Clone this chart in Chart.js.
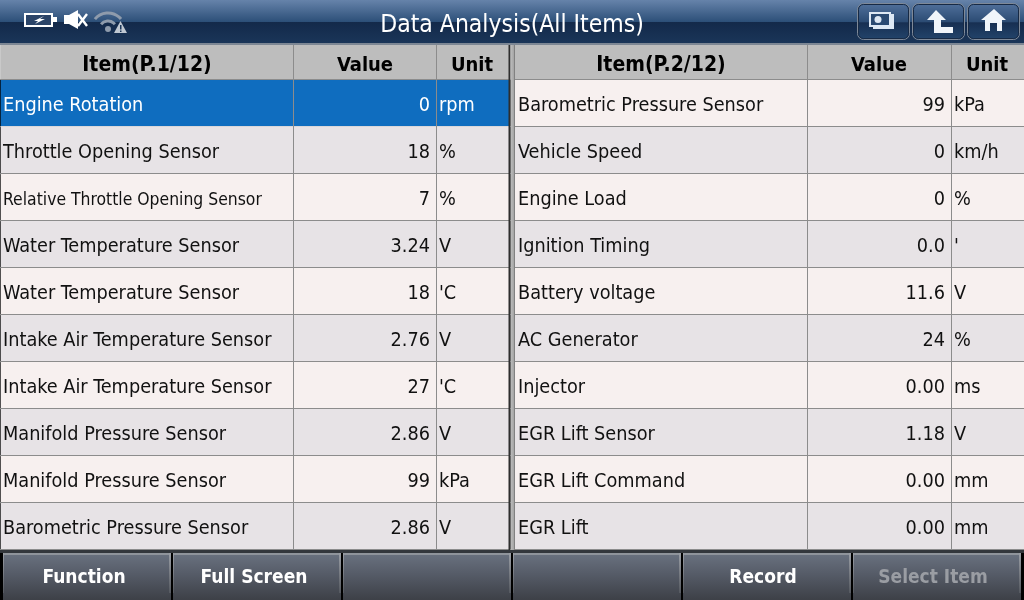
<!DOCTYPE html>
<html><head><meta charset="utf-8">
<style>html,body{margin:0;padding:0;background:#000;overflow:hidden}canvas{display:block}</style>
<script src="https://cdn.jsdelivr.net/npm/chart.js@4"></script>
</head><body><canvas id="c" width="1024" height="600"></canvas>
<script>
const title = "Data Analysis(All Items)";
const headers1 = ["Item(P.1/12)", "Value", "Unit"];
const headers2 = ["Item(P.2/12)", "Value", "Unit"];
const items1 = ["Engine Rotation","Throttle Opening Sensor","Relative Throttle Opening Sensor","Water Temperature Sensor","Water Temperature Sensor","Intake Air Temperature Sensor","Intake Air Temperature Sensor","Manifold Pressure Sensor","Manifold Pressure Sensor","Barometric Pressure Sensor"];
const values1 = ["0","18","7","3.24","18","2.76","27","2.86","99","2.86"];
const units1 = ["rpm","%","%","V","'C","V","'C","V","kPa","V"];
const items2 = ["Barometric Pressure Sensor","Vehicle Speed","Engine Load","Ignition Timing","Battery voltage","AC Generator","Injector","EGR Lift Sensor","EGR Lift Command","EGR Lift"];
const values2 = ["99","0","0","0.0","11.6","24","0.00","1.18","0.00","0.00"];
const units2 = ["kPa","km/h","%","'","V","%","ms","V","mm","mm"];
const buttons = ["Function","Full Screen","","","Record","Select Item"];

const ODD = "#f7f0ef", EVEN = "#e7e3e6", SEL = "#0f6dbf", LINE = "#8c8c8c", HEAD = "#bdbdbd";
const FONT = '"DejaVu Sans Condensed","DejaVu Sans",sans-serif';
const cols = [[1,293],[294,436],[437,509],[515,807],[808,951],[952,1024]];
const rowLabels = items1.map((_, i) => "row" + (i + 1));
const datasets = cols.map((c, ci) => ({
  data: rowLabels.map(() => [c[0], c[1]]),
  backgroundColor: rowLabels.map((_, r) => (r === 0 && ci < 3) ? SEL : (r % 2 ? EVEN : ODD)),
  borderWidth: 0, categoryPercentage: 1, barPercentage: 1, grouped: false
}));

function vgrad(ctx, y0, y1, stops){
  const g = ctx.createLinearGradient(0, y0, 0, y1);
  stops.forEach(s => g.addColorStop(s[0], s[1]));
  return g;
}
function poly(ctx, pts){
  ctx.beginPath();
  pts.forEach((p, i) => i ? ctx.lineTo(p[0], p[1]) : ctx.moveTo(p[0], p[1]));
  ctx.closePath(); ctx.fill();
}

const chrome = {
  id: "chrome",
  beforeDraw(chart){
    const ctx = chart.ctx;
    ctx.save();
    // title bar
    ctx.fillStyle = vgrad(ctx,0,22,[[0,"#6683aa"],[1,"#2c4f78"]]); ctx.fillRect(0,0,1024,22);
    ctx.fillStyle = vgrad(ctx,22,43,[[0,"#13294a"],[1,"#1a3558"]]); ctx.fillRect(0,22,1024,21);
    ctx.fillStyle = "#7d8794"; ctx.fillRect(0,43,1024,2);
    // table header
    ctx.fillStyle = "#c9c9c9"; ctx.fillRect(0,45,1024,35);
    ctx.fillStyle = HEAD;
    cols.forEach(c => ctx.fillRect(c[0],45,c[1]-c[0],34));
    // toolbar
    ctx.fillStyle = "#000"; ctx.fillRect(0,550,1024,50);
    ctx.fillStyle = "#33373c"; ctx.fillRect(0,550,1024,3);
    [3,173,343,513,683,853].forEach(x => {
      const w = 168;
      ctx.fillStyle = vgrad(ctx,553,599,[[0,"#6a7280"],[0.45,"#565c68"],[1,"#3e4148"]]);
      ctx.fillRect(x,553,w,47);
      ctx.fillStyle = "#8f949b"; ctx.fillRect(x,553,w,2);
      ctx.fillStyle = vgrad(ctx,553,592,[[0,"#9a9ea5"],[1,"#575b62"]]);
      ctx.fillRect(x,553,1,40); ctx.fillRect(x+w-2,553,2,40);
    });
    // title-bar buttons
    [[857,52],[912,52],[967,52]].forEach(b => {
      ctx.beginPath(); ctx.roundRect(b[0]+.5,3.5,b[1],36,6);
      ctx.fillStyle = vgrad(ctx,4,40,[[0,"#4f6f9a"],[0.5,"#2b4b73"],[0.52,"#172f52"],[1,"#23456c"]]);
      ctx.fill(); ctx.strokeStyle = "#7e8998"; ctx.lineWidth = 1; ctx.stroke();
      ctx.beginPath(); ctx.roundRect(b[0]+1.5,4.5,b[1]-2,34,5);
      ctx.strokeStyle = "#172a45"; ctx.stroke();
    });
    // battery
    ctx.fillStyle = "#fff"; ctx.fillRect(24,13,29,14); ctx.fillRect(53,17,4,5);
    ctx.fillStyle = "#2b4468"; ctx.fillRect(26,15,25,10);
    ctx.fillStyle = "#fff";
    poly(ctx,[[44,16],[34,21],[38,21],[35,24],[45,19],[40,19]]);
    // speaker muted
    poly(ctx,[[64,15],[69,15],[78,10],[78,29],[69,24],[64,24]]);
    ctx.strokeStyle = "#fff"; ctx.lineWidth = 2.4;
    ctx.beginPath(); ctx.moveTo(78,14); ctx.lineTo(87,26); ctx.moveTo(78,26); ctx.lineTo(87,14); ctx.stroke();
    // wifi warning
    ctx.strokeStyle = "#8e9bac"; ctx.lineWidth = 3;
    ctx.beginPath(); ctx.arc(108,30,17,-2.45,-0.7); ctx.stroke();
    ctx.beginPath(); ctx.arc(108,30,9,-2.45,-0.7); ctx.stroke();
    ctx.fillStyle = "#8e9bac"; ctx.beginPath(); ctx.arc(108,29,3,0,7); ctx.fill();
    ctx.fillStyle = "#c0c8d2"; poly(ctx,[[120.5,21],[127,33],[114,33]]);
    ctx.fillStyle = "#1a3558"; ctx.fillRect(120,25,1.5,4.5); ctx.fillRect(120,30.5,1.5,1.5);
    // right icons
    ctx.fillStyle = "#dde8f4";
    ctx.fillRect(873,14,21,15); ctx.fillRect(869,12,22,15);
    ctx.fillStyle = "#2a4a72"; ctx.fillRect(871,14,18,11);
    ctx.fillStyle = "#dde8f4"; ctx.beginPath(); ctx.arc(878,19.5,3.5,0,7); ctx.fill();
    ctx.fillStyle = "#f0f5fa";
    poly(ctx,[[936,10],[946,20],[941,20],[941,27],[953,27],[953,33],[934,33],[934,20],[927,20]]);
    poly(ctx,[[994,9],[1006,20],[1002,20],[1002,31],[997,31],[997,23],[990,23],[990,31],[985,31],[985,20],[981,20]]);
    ctx.restore();
  },
  afterDatasetsDraw(chart){
    const ctx = chart.ctx, xs = chart.scales.x, ys = chart.scales.y;
    ctx.save();
    const pitch = ys.getPixelForValue(1) - ys.getPixelForValue(0);
    const rowTop = i => ys.getPixelForValue(i) - pitch / 2;
    // horizontal rules
    for (let i = 0; i <= rowLabels.length; i++) {
      const y = Math.round(rowTop(i)) - 1;
      ctx.fillStyle = LINE;
      ctx.fillRect(xs.getPixelForValue(0), y, 1024, 1);
      if (i === 1) { ctx.fillStyle = "#d9d7da"; ctx.fillRect(1, y, 508, 1); }
    }
    // column rules
    ctx.fillStyle = LINE;
    [293,436,807,951].forEach(x => ctx.fillRect(x,45,1,505));
    // divider
    ctx.fillStyle = "#2e2e2e"; ctx.fillRect(508.5,45,2,505);
    const g = ctx.createLinearGradient(510,0,515,0);
    g.addColorStop(0,"#c2c2c2"); g.addColorStop(.7,"#a8a8a8"); g.addColorStop(1,"#6e6e6e");
    ctx.fillStyle = g; ctx.fillRect(510.5,45,4.5,505);
    // header text
    ctx.fillStyle = "#000"; ctx.textBaseline = "alphabetic"; ctx.textAlign = "center";
    [[headers1,[147,365,472]],[headers2,[661,879,987]]].forEach(h => h[0].forEach((t,i) => {
      ctx.font = (i === 0 ? "bold 21px " : "bold 20px ") + FONT;
      ctx.fillText(t,h[1][i],71);
    }));
    // cells
    const table = (items, vals, units, xi, xv, xu, sel) => {
      items.forEach((t, r) => {
        const y = ys.getPixelForValue(r) + 7;
        ctx.fillStyle = (sel && r === 0) ? "#fff" : "#111";
        ctx.textAlign = "left";
        ctx.font = (t.length > 30 ? "17.4px " : "19.7px ") + FONT;
        ctx.fillText(t, xi, y);
        ctx.font = "19.7px " + FONT;
        ctx.textAlign = "right"; ctx.fillText(vals[r], xv, y);
        ctx.textAlign = "left"; ctx.fillText(units[r], xu, y);
      });
    };
    table(items1, values1, units1, 3, 430, 439, true);
    table(items2, values2, units2, 518, 945, 954, false);
    // title
    ctx.fillStyle = "#fff"; ctx.textAlign = "center"; ctx.font = "24.5px " + FONT;
    ctx.fillText(title, 512, 32);
    // toolbar labels
    ctx.font = "bold 19px " + FONT;
    buttons.forEach((b, i) => {
      ctx.fillStyle = i === 5 ? "#9a9da3" : "#fff";
      ctx.fillText(b, 84 + 170 * i - (i>3?1:0), 583);
    });
    ctx.restore();
  }
};

new Chart(document.getElementById("c"), {
  type: "bar",
  data: { labels: rowLabels, datasets },
  options: {
    indexAxis: "y", responsive: false, animation: false, devicePixelRatio: 1,
    layout: { padding: { top: 80, bottom: 50, left: 0, right: 0 } },
    plugins: { legend: { display: false }, tooltip: { enabled: false }, title: { display: false } },
    scales: {
      x: { type: "linear", min: 0, max: 1024, display: false },
      y: { type: "category", display: false }
    }
  },
  plugins: [chrome]
});
</script></body></html>
